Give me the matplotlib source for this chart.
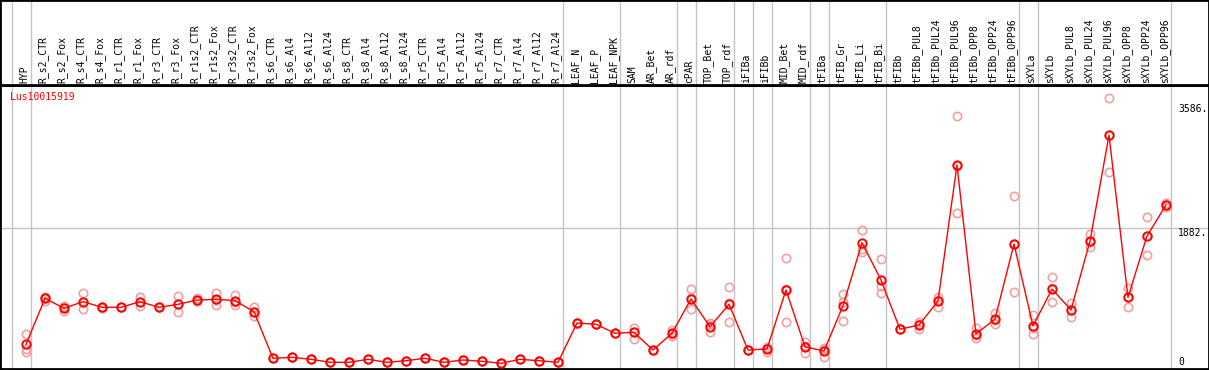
import numpy as np
import matplotlib
matplotlib.use("Agg")
import matplotlib.pyplot as plt


########################################
# data

gene = "Lus10015919"

samples = ["HYP",
           "R_s2_CTR", "R_s2_Fox", "R_s4_CTR", "R_s4_Fox", "R_r1_CTR", "R_r1_Fox",
           "R_r3_CTR", "R_r3_Fox", "R_r1s2_CTR", "R_r1s2_Fox", "R_r3s2_CTR", "R_r3s2_Fox",
           "R_s6_CTR", "R_s6_Al4", "R_s6_Al12", "R_s6_Al24",
           "R_s8_CTR", "R_s8_Al4", "R_s8_Al12", "R_s8_Al24",
           "R_r5_CTR", "R_r5_Al4", "R_r5_Al12", "R_r5_Al24",
           "R_r7_CTR", "R_r7_Al4", "R_r7_Al12", "R_r7_Al24",
           "LEAF_N", "LEAF_P", "LEAF_NPK", "SAM", "AR_Bet", "AR_rdf", "cPAR",
           "TOP_Bet", "TOP_rdf", "iFIBa", "iFIBb", "MID_Bet", "MID_rdf", "tFIBa",
           "tFIB_Gr", "tFIB_Li", "tFIB_Bi", "tFIBb",
           "tFIBb_PUL8", "tFIBb_PUL24", "tFIBb_PUL96", "tFIBb_OPP8", "tFIBb_OPP24", "tFIBb_OPP96",
           "sXYLa", "sXYLb",
           "sXYLb_PUL8", "sXYLb_PUL24", "sXYLb_PUL96", "sXYLb_OPP8", "sXYLb_OPP24", "sXYLb_OPP96"]

means = [284,
         917, 779, 870, 793, 793, 870, 793, 834, 893, 903, 884, 732,
         92, 106, 78, 37, 37, 78, 37, 59, 92, 37, 69, 51, 23, 78, 59, 37,
         577, 559, 436, 449, 206, 436, 907,
         526, 834, 206, 220, 1031, 251, 192,
         815, 1681, 1168, 491,
         550, 879, 2748, 426, 632, 1663,
         536, 1044,
         756, 1704, 3157, 930, 1773, 2199]

reps = [[426, 220, 183],
        [925, 884, 934], [811, 742, 783], [985, 765, 866], [790, 800, 790],
        [793, 793, 793], [939, 811, 866], [793, 793, 793], [944, 724, 834],
        [921, 884, 879], [985, 825, 897], [962, 825, 866], [801, 673, 728],
        [92, 92, 92], [106, 106, 106], [78, 78, 78], [37, 37, 37],
        [37, 37, 37], [78, 78, 78], [37, 37, 37], [59, 59, 59],
        [92, 92, 92], [37, 37, 37], [69, 69, 69], [51, 51, 51],
        [23, 23, 23], [78, 78, 78], [59, 59, 59], [37, 37, 37],
        [577, 577, 577], [559, 559, 559], [436, 436, 436],
        [504, 353, 453], [206, 206, 206], [481, 399, 426], [1040, 765, 921],
        [573, 458, 550], [1068, 587, 848], [206, 206, 206], [175, 247, 234],
        [1466, 587, 1040], [320, 169, 261], [238, 114, 220],
        [972, 605, 866], [1855, 1590, 1557], [1457, 1086, 985], [491, 491, 491],
        [595, 491, 563], [939, 801, 900], [3422, 2085, 2737],
        [504, 367, 412], [710, 559, 625], [2322, 1003, 1664],
        [687, 422, 508], [1205, 862, 1065],
        [856, 655, 756], [1800, 1617, 1697], [3665, 2652, 3154],
        [1054, 793, 941], [2030, 1512, 1777], [2230, 2199, 2171]]

# last sample of each group (separator drawn after it)
group_ends = [-1, 0, 28, 31, 34, 35, 37, 38, 39, 41, 42, 45, 52, 53, 60]

ytick_vals = [0, 1882, 3586]
ytick_labels = ["0", "1882.", "3586."]


########################################
# figure

W, H = 1209, 370
fig = plt.figure(figsize=(W / 100, H / 100), dpi=100)

head_px = 85
ax = fig.add_axes([0, 1 / H, 1, (H - head_px - 1) / H])
hx = fig.add_axes([0, (H - head_px) / H, 1, head_px / H], sharex=ax)

x = np.arange(len(samples))
ax.set_xlim(-26 / 19, (W - 26) / 19)
ax.set_ylim(-55, 3848)
hx.set_ylim(0, 1)

for a in (ax, hx):
    a.set_xticks([])
    a.set_yticks([])
    for s in a.spines.values():
        s.set_color("black")
        s.set_linewidth(2)
    for g in group_ends:
        a.axvline(g + 0.25, color="#c4c4c4", lw=1, zorder=0)

ax.axhline(1882, color="#c4c4c4", lw=1, zorder=0)

# replicates
for i, r in enumerate(reps):
    ax.plot([i] * len(r), r, "o", ms=6, mfc="none", mec="#f0a0a0", mew=1.2, zorder=2)

ax.plot(x, means, "-", color="red", lw=1, zorder=3)
ax.plot(x, means, "o", ms=6, mfc="none", mec="red", mew=1.4, zorder=4)

# column labels
for i, name in enumerate(samples):
    hx.text(i - 0.1, 0.02, name, rotation=90, ha="center", va="bottom",
            family="DejaVu Sans Mono", fontsize=7)

ax.text(10 / W, 1 - 12 / (H - head_px), gene, transform=ax.transAxes,
        color="red", family="DejaVu Sans Mono", fontsize=7, va="center", ha="left")

# value labels on the right
x_lab = (1178 - 26) / 19
for v, lab in zip(ytick_vals, ytick_labels):
    if v == 0:
        ax.text(x_lab, 45, lab, family="DejaVu Sans Mono", fontsize=7, va="center", ha="left")
    else:
        ax.text(x_lab, v, lab, family="DejaVu Sans Mono", fontsize=7, va="top", ha="left")

fig.savefig("out.png", dpi=100)
